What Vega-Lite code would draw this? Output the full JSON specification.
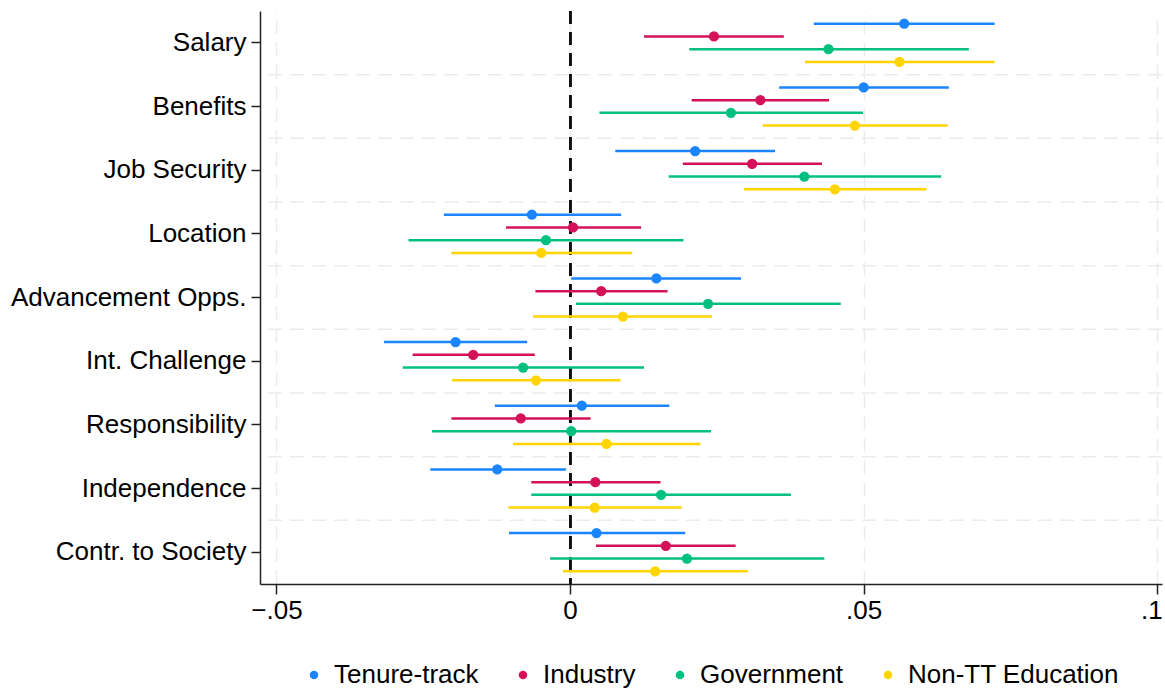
{
  "$schema": "https://vega.github.io/schema/vega-lite/v6.json",
  "autosize": "none",
  "padding": {"left": 260, "top": 11, "right": 3, "bottom": 104},
  "width": 902,
  "height": 573,
  "background": "white",
  "data": {
    "values": [
      {"cat": "Salary", "series": "Tenure-track", "est": 0.0569, "lo": 0.0415, "hi": 0.0723},
      {"cat": "Salary", "series": "Industry", "est": 0.0245, "lo": 0.0126, "hi": 0.0364},
      {"cat": "Salary", "series": "Government", "est": 0.0440, "lo": 0.0203, "hi": 0.0679},
      {"cat": "Salary", "series": "Non-TT Education", "est": 0.0561, "lo": 0.0400, "hi": 0.0723},
      {"cat": "Benefits", "series": "Tenure-track", "est": 0.0500, "lo": 0.0356, "hi": 0.0645},
      {"cat": "Benefits", "series": "Industry", "est": 0.0324, "lo": 0.0207, "hi": 0.0441},
      {"cat": "Benefits", "series": "Government", "est": 0.0274, "lo": 0.0050, "hi": 0.0499},
      {"cat": "Benefits", "series": "Non-TT Education", "est": 0.0485, "lo": 0.0328, "hi": 0.0643},
      {"cat": "Job Security", "series": "Tenure-track", "est": 0.0213, "lo": 0.0077, "hi": 0.0349},
      {"cat": "Job Security", "series": "Industry", "est": 0.0310, "lo": 0.0192, "hi": 0.0429},
      {"cat": "Job Security", "series": "Government", "est": 0.0399, "lo": 0.0168, "hi": 0.0632},
      {"cat": "Job Security", "series": "Non-TT Education", "est": 0.0451, "lo": 0.0296, "hi": 0.0607},
      {"cat": "Location", "series": "Tenure-track", "est": -0.0065, "lo": -0.0215, "hi": 0.0087},
      {"cat": "Location", "series": "Industry", "est": 0.0005, "lo": -0.0109, "hi": 0.0121},
      {"cat": "Location", "series": "Government", "est": -0.0041, "lo": -0.0275, "hi": 0.0193},
      {"cat": "Location", "series": "Non-TT Education", "est": -0.0049, "lo": -0.0202, "hi": 0.0106},
      {"cat": "Advancement Opps.", "series": "Tenure-track", "est": 0.0147, "lo": 0.0002, "hi": 0.0291},
      {"cat": "Advancement Opps.", "series": "Industry", "est": 0.0053, "lo": -0.0059, "hi": 0.0166},
      {"cat": "Advancement Opps.", "series": "Government", "est": 0.0235, "lo": 0.0010, "hi": 0.0461},
      {"cat": "Advancement Opps.", "series": "Non-TT Education", "est": 0.0090, "lo": -0.0063, "hi": 0.0242},
      {"cat": "Int. Challenge", "series": "Tenure-track", "est": -0.0195, "lo": -0.0317, "hi": -0.0073},
      {"cat": "Int. Challenge", "series": "Industry", "est": -0.0165, "lo": -0.0268, "hi": -0.0060},
      {"cat": "Int. Challenge", "series": "Government", "est": -0.0080, "lo": -0.0285, "hi": 0.0126},
      {"cat": "Int. Challenge", "series": "Non-TT Education", "est": -0.0058, "lo": -0.0201, "hi": 0.0086},
      {"cat": "Responsibility", "series": "Tenure-track", "est": 0.0020, "lo": -0.0128, "hi": 0.0169},
      {"cat": "Responsibility", "series": "Industry", "est": -0.0084, "lo": -0.0202, "hi": 0.0035},
      {"cat": "Responsibility", "series": "Government", "est": 0.0002, "lo": -0.0235, "hi": 0.0240},
      {"cat": "Responsibility", "series": "Non-TT Education", "est": 0.0062, "lo": -0.0097, "hi": 0.0222},
      {"cat": "Independence", "series": "Tenure-track", "est": -0.0124, "lo": -0.0238, "hi": -0.0007},
      {"cat": "Independence", "series": "Industry", "est": 0.0043, "lo": -0.0066, "hi": 0.0154},
      {"cat": "Independence", "series": "Government", "est": 0.0155, "lo": -0.0066, "hi": 0.0376},
      {"cat": "Independence", "series": "Non-TT Education", "est": 0.0042, "lo": -0.0105, "hi": 0.0190},
      {"cat": "Contr. to Society", "series": "Tenure-track", "est": 0.0045, "lo": -0.0104, "hi": 0.0196},
      {"cat": "Contr. to Society", "series": "Industry", "est": 0.0163, "lo": 0.0044, "hi": 0.0282},
      {"cat": "Contr. to Society", "series": "Government", "est": 0.0199, "lo": -0.0034, "hi": 0.0433},
      {"cat": "Contr. to Society", "series": "Non-TT Education", "est": 0.0145, "lo": -0.0012, "hi": 0.0303}
    ]
  },
  "encoding": {
    "y": {
      "field": "cat",
      "type": "nominal",
      "title": null,
      "scale": {
        "domain": ["Salary", "Benefits", "Job Security", "Location", "Advancement Opps.", "Int. Challenge", "Responsibility", "Independence", "Contr. to Society"],
        "paddingInner": 0,
        "paddingOuter": 0
      },
      "axis": {
        "grid": false,
        "ticks": true,
        "tickSize": 9,
        "tickWidth": 1.5,
        "tickColor": "#222222",
        "domainColor": "#222222",
        "domainWidth": 1.5,
        "labelPadding": 5,
        "labelFontSize": 26,
        "labelLimit": 0,
        "labelColor": "#000000",
        "labelFont": "Liberation Sans"
      }
    }
  },
  "layer": [
    {
      "transform": [
        {"filter": "datum.series === 'Tenure-track' && datum.cat !== 'Salary'"}
      ],
      "mark": {"type": "rule", "stroke": "#ebebeb", "strokeWidth": 1.5, "strokeDash": [14, 8]},
      "encoding": {
        "y": {"field": "cat", "type": "nominal", "bandPosition": 0}
      }
    },
    {
      "mark": {"type": "rule", "stroke": "#111111", "strokeWidth": 2, "strokeDash": [13, 8]},
      "encoding": {
        "x": {"datum": 0, "type": "quantitative"},
        "y": null
      }
    },
    {
      "mark": {"type": "rule", "strokeWidth": 2.5},
      "encoding": {
        "x": {
          "field": "lo",
          "type": "quantitative",
          "title": null,
          "scale": {"domain": [-0.0528, 0.1008], "nice": false, "zero": false},
          "axis": {
            "values": [-0.05, 0, 0.05, 0.1],
            "labelExpr": "replace(format(datum.value, '.2~f'), '0.', '.')",
            "labelAlign": {"condition": {"test": "datum.value >= 0.09", "value": "right"}, "value": "center"},
            "labelOffset": {"condition": {"test": "datum.value >= 0.09", "value": 5}, "value": 0},
            "grid": true,
            "gridColor": "#ebebeb",
            "gridWidth": 1.5,
            "gridDash": [14, 8],
            "tickSize": 10,
            "tickWidth": 1.5,
            "tickColor": "#222222",
            "domainColor": "#222222",
            "domainWidth": 1.5,
            "labelPadding": 3,
            "labelFontSize": 26,
            "labelColor": "#000000",
            "labelFont": "Liberation Sans",
            "labelFlush": false
          }
        },
        "x2": {"field": "hi"},
        "yOffset": {
          "field": "series",
          "type": "nominal",
          "scale": {"domain": ["Tenure-track", "Industry", "Government", "Non-TT Education"], "paddingInner": 0, "paddingOuter": 0.5}
        },
        "color": {
          "field": "series",
          "type": "nominal",
          "title": null,
          "scale": {
            "domain": ["Tenure-track", "Industry", "Government", "Non-TT Education"],
            "range": ["#1A85FF", "#D41159", "#00BF7F", "#FFD400"]
          },
          "legend": {
            "orient": "none",
            "legendX": 41,
            "legendY": 651,
            "direction": "horizontal",
            "symbolType": "circle",
            "symbolSize": 72,
            "symbolStrokeWidth": 0,
            "labelFontSize": 26,
            "labelLimit": 0,
            "labelFont": "Liberation Sans",
            "labelColor": "#000000",
            "labelOffset": 7,
            "columnPadding": 31,
            "padding": 0
          }
        }
      }
    },
    {
      "mark": {"type": "point", "filled": true, "shape": "circle", "size": 105, "opacity": 1},
      "encoding": {
        "x": {"field": "est", "type": "quantitative"},
        "yOffset": {"field": "series", "type": "nominal"},
        "color": {
          "field": "series",
          "type": "nominal",
          "title": null,
          "legend": {
            "orient": "none",
            "legendX": 41,
            "legendY": 651,
            "direction": "horizontal",
            "symbolType": "circle",
            "symbolSize": 72,
            "symbolStrokeWidth": 0,
            "labelFontSize": 26,
            "labelLimit": 0,
            "labelFont": "Liberation Sans",
            "labelColor": "#000000",
            "labelOffset": 7,
            "columnPadding": 31,
            "padding": 0
          }
        }
      }
    }
  ],
  "config": {
    "view": {"stroke": null},
    "font": "Liberation Sans"
  }
}
